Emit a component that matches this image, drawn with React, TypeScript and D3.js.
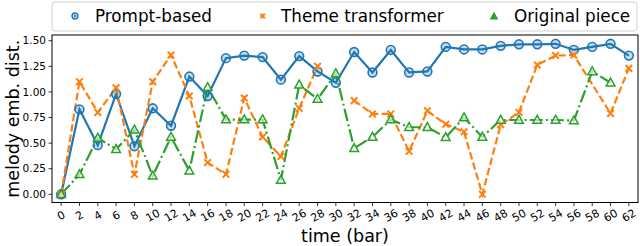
import React from "react";
import * as d3 from "d3";

const bars = [0, 2, 4, 6, 8, 10, 12, 14, 16, 18, 20, 22, 24, 26, 28, 30, 32, 34, 36, 38, 40, 42, 44, 46, 48, 50, 52, 54, 56, 58, 60, 62];

const promptBased = [0, 0.83, 0.48, 0.98, 0.47, 0.84, 0.67, 1.15, 0.96, 1.33, 1.355, 1.34, 1.12, 1.35, 1.2, 1.09, 1.39, 1.19, 1.41, 1.19, 1.2, 1.44, 1.415, 1.415, 1.45, 1.465, 1.465, 1.47, 1.41, 1.44, 1.47, 1.355];

// Theme transformer: bar 58 has no value (line joins 56 to 60), bar 30 is missing (gap)
const themeBars = [0, 2, 4, 6, 8, 10, 12, 14, 16, 18, 20, 22, 24, 26, 28, 30, 32, 34, 36, 38, 40, 42, 44, 46, 48, 50, 52, 54, 56, 60, 62];
const themeTransformer: (number | null)[] = [0, 1.1, 0.8, 1.04, 0.195, 1.1, 1.36, 0.96, 0.31, 0.195, 0.94, 0.56, 0.37, 0.84, 1.25, null, 0.915, 0.785, 0.785, 0.42, 0.815, 0.684, 0.61, 0.0, 0.68, 0.8, 1.264, 1.355, 1.36, 0.79, 1.23];

const originalBars = [0, 2, 4, 6, 8, 10, 12, 14, 16, 18, 20, 22, 24, 26, 28, 30, 32, 34, 36, 38, 40, 42, 44, 46, 48, 50, 52, 54, 56, 58, 60];
const originalPiece = [0, 0.195, 0.55, 0.44, 0.63, 0.18, 0.56, 0.23, 1.045, 0.73, 0.73, 0.73, 0.14, 1.07, 0.93, 1.18, 0.45, 0.56, 0.73, 0.655, 0.655, 0.557, 0.75, 0.56, 0.726, 0.726, 0.726, 0.726, 0.72, 1.2, 1.09];

const yTicks = [0, 0.25, 0.5, 0.75, 1.0, 1.25, 1.5];
const seriesNames = ["Prompt-based", "Theme transformer", "Original piece"];

const BLUE = "#1f77b4";
const ORANGE = "#ff7f0e";
const GREEN = "#2ca02c";
const FONT = "DejaVu Sans, sans-serif";

export default function App() {
  const W = 640, H = 246;
  const left = 52, right = 638, top = 35, bottom = 202.5;
  const x = d3.scaleLinear().domain([-1, 63]).range([left, right]);
  const y = d3.scaleLinear().domain([-0.08, 1.556]).range([bottom, top]);

  type P = { b: number; v: number | null };
  const mk = (bs: number[], vs: (number | null)[]): P[] => bs.map((b, i) => ({ b, v: vs[i] }));
  const line = d3
    .line<P>()
    .defined((d) => d.v !== null)
    .x((d) => x(d.b))
    .y((d) => y(d.v as number));

  const blue = mk(bars, promptBased);
  const orange = mk(themeBars, themeTransformer);
  const green = mk(originalBars, originalPiece);

  const circle = (cx: number, cy: number, r: number, key: any) => (
    <circle key={key} cx={cx} cy={cy} r={r} fill="rgba(31,119,180,0.25)" stroke={BLUE} strokeWidth={1.6} />
  );
  const cross = (cx: number, cy: number, s: number, key: any) => (
    <path key={key} d={`M${cx - s},${cy - s}L${cx + s},${cy + s}M${cx - s},${cy + s}L${cx + s},${cy - s}`} stroke={ORANGE} strokeWidth={2} fill="none" />
  );
  const tri = (cx: number, cy: number, s: number, key: any, fill = "rgba(255,255,255,0.6)") => (
    <path key={key} d={`M${cx},${cy - s}L${cx + s * 0.95},${cy + s * 0.7}L${cx - s * 0.95},${cy + s * 0.7}Z`} stroke={GREEN} strokeWidth={1.5} fill={fill} />
  );

  return (
    <div style={{ position: "absolute", left: 0, top: 0 }}>
      <svg width={W} height={H} style={{ display: "block", background: "#fff" }} fontFamily={FONT}>
        {/* lines */}
        <path d={line(blue) || ""} fill="none" stroke={BLUE} strokeWidth={2.2} />
        <path d={line(orange) || ""} fill="none" stroke={ORANGE} strokeWidth={2.2} strokeDasharray="7.4,3.2" />
        <path d={line(green) || ""} fill="none" stroke={GREEN} strokeWidth={2.2} strokeDasharray="12.8,3.2,2,3.2" />
        {/* markers */}
        {blue.map((d, i) => circle(x(d.b), y(d.v as number), 4.4, "b" + i))}
        {orange.filter((d) => d.v !== null).map((d, i) => cross(x(d.b), y(d.v as number), 3.3, "o" + i))}
        {green.map((d, i) => tri(x(d.b), y(d.v as number), 4.6, "g" + i))}

        {/* frame */}
        <rect x={left} y={top} width={right - left} height={bottom - top} fill="none" stroke="#000" strokeWidth={1} />

        {/* y axis */}
        {yTicks.map((t) => (
          <g key={"yt" + t}>
            <line x1={left - 3.5} x2={left} y1={y(t)} y2={y(t)} stroke="#000" strokeWidth={0.8} />
            <text x={left - 6} y={y(t)} dy="0.35em" textAnchor="end" fontSize={10.5}>
              {t.toFixed(2)}
            </text>
          </g>
        ))}
        {/* x axis */}
        {bars.map((b) => (
          <g key={"xt" + b}>
            <line x1={x(b)} x2={x(b)} y1={bottom} y2={bottom + 3.5} stroke="#000" strokeWidth={0.8} />
            <text
              transform={`translate(${x(b)},${bottom + 13}) rotate(-30)`}
              textAnchor="middle"
              dy="0.35em"
              fontSize={11}
            >
              {b}
            </text>
          </g>
        ))}
        <text x={(left + right) / 2} y={242} textAnchor="middle" fontSize={17.5}>
          time (bar)
        </text>
        <text transform={`translate(${13},${(top + bottom) / 2}) rotate(-90)`} textAnchor="middle" dy="0.35em" fontSize={17.5}>
          melody emb. dist.
        </text>

        {/* legend */}
        <rect x={52} y={2} width={585} height={29} rx={3} fill="#fff" fillOpacity={0.8} stroke="#d0d0d0" strokeWidth={1} />
        <circle cx={75} cy={16} r={3} fill="rgba(31,119,180,0.3)" stroke={BLUE} strokeWidth={1.3} />
        <circle cx={75} cy={16} r={1.1} fill={BLUE} />
        {cross(262.6, 16, 2.2, "lo")}
        {tri(494, 16.5, 3.2, "lg", GREEN)}
        <text x={95} y={16} dy="0.35em" fontSize={16.8}>{seriesNames[0]}</text>
        <text x={281} y={16} dy="0.35em" fontSize={16.8}>{seriesNames[1]}</text>
        <text x={514} y={16} dy="0.35em" fontSize={16.8}>{seriesNames[2]}</text>
      </svg>
    </div>
  );
}
